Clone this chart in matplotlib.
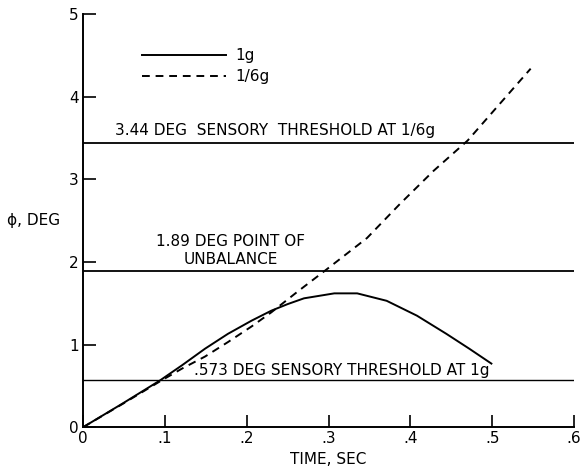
import matplotlib.pyplot as plt

# curve 1g (solid)
t_1g = [0.0, 0.048, 0.094, 0.121, 0.149, 0.177, 0.206, 0.230, 0.250, 0.270,
        0.307, 0.335, 0.371, 0.408, 0.444, 0.472, 0.499]
phi_1g = [0.0, 0.285, 0.566, 0.75, 0.95, 1.13, 1.29, 1.41, 1.49, 1.56,
          1.62, 1.62, 1.53, 1.35, 1.13, 0.95, 0.77]

# curve 1/6g (dashed)
t_6g = [0.0, 0.048, 0.094, 0.121, 0.149, 0.177, 0.206, 0.230, 0.262, 0.295,
        0.347, 0.387, 0.428, 0.470, 0.508, 0.547]
phi_6g = [0.0, 0.28, 0.555, 0.71, 0.855, 1.03, 1.22, 1.39, 1.64, 1.89,
          2.29, 2.70, 3.10, 3.47, 3.90, 4.34]

thresholds = [3.44, 1.89, 0.573]

fig = plt.figure(figsize=(5.81, 4.71), dpi=100)
ax = fig.add_axes([0.143, 0.093, 0.845, 0.877])

ax.plot(t_1g, phi_1g, color="black", lw=1.4)
ax.plot(t_6g, phi_6g, color="black", lw=1.4, ls=(0, (4, 3)))

ax.plot([0, 0.6], [thresholds[0]] * 2, color="black", lw=1.3)
ax.plot([0, 0.6], [thresholds[1]] * 2, color="black", lw=1.3)
ax.plot([0, 0.6], [thresholds[2]] * 2, color="black", lw=1.0)

fs = 11
ax.text(0.039, 3.50, "3.44 DEG  SENSORY  THRESHOLD AT 1/6g", fontsize=fs, va="bottom")
ax.text(0.18, 2.25, "1.89 DEG POINT OF", fontsize=fs, ha="center", va="center")
ax.text(0.18, 2.03, "UNBALANCE", fontsize=fs, ha="center", va="center")
ax.text(0.135, 0.60, ".573 DEG SENSORY THRESHOLD AT 1g", fontsize=fs, va="bottom")

# legend drawn by hand
ax.plot([0.072, 0.175], [4.5, 4.5], color="black", lw=1.4)
ax.plot([0.072, 0.175], [4.25, 4.25], color="black", lw=1.4, ls=(0, (4, 3)))
ax.text(0.186, 4.5, "1g", fontsize=fs, va="center")
ax.text(0.186, 4.25, "1/6g", fontsize=fs, va="center")

ax.set_xlim(0, 0.6)
ax.set_ylim(0, 5)
ax.set_xticks([0, 0.1, 0.2, 0.3, 0.4, 0.5, 0.6])
ax.set_xticklabels(["0", ".1", ".2", ".3", ".4", ".5", ".6"], fontsize=fs)
ax.set_yticks([0, 1, 2, 3, 4, 5])
ax.set_yticklabels(["0", "1", "2", "3", "4", "5"], fontsize=fs)
ax.tick_params(direction="in", length=9, width=1.2, pad=3)
for s in ["top", "right"]:
    ax.spines[s].set_visible(False)
for s in ["left", "bottom"]:
    ax.spines[s].set_linewidth(1.4)

ax.set_xlabel("TIME, SEC", fontsize=fs, labelpad=4)
ax.set_ylabel("\u03d5, DEG", fontsize=fs, rotation=0, ha="center", va="center")
ax.yaxis.set_label_coords(-0.10, 0.5)

fig.savefig("out.png", dpi=100)
